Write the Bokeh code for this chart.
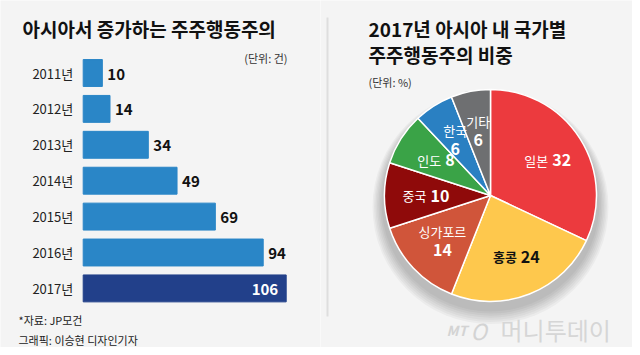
import math
from bokeh.plotting import figure
from bokeh.layouts import row
from bokeh.models import Range1d, ColumnDataSource, Label
from bokeh.core.properties import value
from bokeh.embed import file_html
from bokeh.resources import INLINE

# ---------------- data ----------------
years = ["2011년", "2012년", "2013년", "2014년", "2015년", "2016년", "2017년"]
counts = [10, 14, 34, 49, 69, 94, 106]

countries = ["일본", "홍콩", "싱가포르", "중국", "인도", "한국", "기타"]
shares = [32, 24, 14, 10, 8, 6, 6]

bar_color = "#2a86c7"
highlight_color = "#22408a"
slice_colors = ["#ec3a3e", "#fec84d", "#d0553a", "#8f0a0a", "#3aa347", "#2a80c2", "#6e6f71"]
label_colors = ["white", "#111111", "white", "white", "white", "white", "white"]

BG = "#f4f4f4"
FONT = "Noto Sans CJK KR"
H = 347

# ---------------- left: bar chart ----------------
LW = 320
PX = 1.915      # pixels per unit
X0 = 82.7       # screen x of value 0
STEP = 35.9     # pixels per category
Y0 = 72.5       # screen y of first category centre

left = figure(width=LW, height=H, output_backend="svg", toolbar_location=None,
              x_range=Range1d(-X0 / PX, (LW - X0) / PX),
              y_range=Range1d((H - Y0) / STEP, -Y0 / STEP),
              min_border=0)
left.axis.visible = False
left.grid.visible = False
left.outline_line_color = None
left.background_fill_color = BG
left.border_fill_color = BG

def lx(px):
    return (px - X0) / PX

def ly(py):
    return (py - Y0) / STEP

idx = list(range(len(years)))
last = len(years) - 1
colors = [highlight_color if i == last else bar_color for i in idx]
src = ColumnDataSource(dict(y=idx, v=counts, c=colors))
left.hbar(y="y", left=0, right="v", height=0.75, color="c", source=src)

left.text(x=[0] * len(idx), y=idx, text=years, x_offset=-10,
          text_align="right", text_baseline="middle",
          text_font=value(FONT), text_font_size="13px", text_color="#222222")

out_idx = idx[:-1]
left.text(x=[counts[i] for i in out_idx], y=out_idx,
          text=[str(counts[i]) for i in out_idx], x_offset=5, y_offset=1,
          text_align="left", text_baseline="middle",
          text_font=value(FONT), text_font_style="bold",
          text_font_size="15px", text_color="#111111")
left.text(x=[counts[last]], y=[last], text=[str(counts[last])], x_offset=-8, y_offset=1,
          text_align="right", text_baseline="middle",
          text_font=value(FONT), text_font_style="bold",
          text_font_size="15px", text_color="white")

left.add_layout(Label(x=lx(22), y=ly(28), text="아시아서 증가하는 주주행동주의",
                      text_baseline="middle", text_align="left",
                      text_font=FONT, text_font_style="bold",
                      text_font_size="19px", text_color="#111111"))
left.add_layout(Label(x=lx(287), y=ly(57), text="(단위: 건)",
                      text_baseline="middle", text_align="right",
                      text_font=FONT, text_font_size="11px", text_color="#333333"))
left.add_layout(Label(x=lx(18), y=ly(319), text="*자료: JP모건",
                      text_baseline="middle", text_align="left",
                      text_font=FONT, text_font_size="11px", text_color="#222222"))
left.add_layout(Label(x=lx(18), y=ly(339), text="그래픽: 이승현 디자인기자",
                      text_baseline="middle", text_align="left",
                      text_font=FONT, text_font_size="11px", text_color="#222222"))

# ---------------- right: pie chart ----------------
RW = 312
RX0 = 320
CX, CY = 490, 195   # pie centre in page pixels
R = 106

right = figure(width=RW, height=H, output_backend="svg", toolbar_location=None,
               x_range=Range1d(RX0 - CX, RX0 + RW - CX),
               y_range=Range1d(CY - H, CY),
               min_border=0)
right.axis.visible = False
right.grid.visible = False
right.outline_line_color = None
right.background_fill_color = BG
right.border_fill_color = BG

def rx(x):
    return x - CX

def ry(y):
    return CY - y

# separator line
right.segment(x0=[rx(327)], y0=[ry(17)], x1=[rx(327)], y1=[ry(316)],
              line_color="#dedede", line_width=2)

# soft shadow
for k in range(7):
    right.ellipse(x=[0], y=[-8 - k * 0.6], width=[2 * R + 6 + k * 3], height=[2 * R + 4 + k * 3],
                  fill_color="black", fill_alpha=0.035, line_color=None)

total = float(sum(shares))
starts, ends, mids = [], [], []
cum = 0.0
for s in shares:
    a0 = math.pi / 2 - 2 * math.pi * cum / total
    cum += s
    a1 = math.pi / 2 - 2 * math.pi * cum / total
    starts.append(a0)
    ends.append(a1)
    mids.append((a0 + a1) / 2)

right.wedge(x=[0] * len(shares), y=[0] * len(shares), radius=R,
            start_angle=starts, end_angle=ends, direction="clock",
            fill_color=slice_colors, line_color="white", line_width=1.5)

LR = 66
for name, s, m, col in zip(countries, shares, mids, label_colors):
    x = LR * math.cos(m)
    y = LR * math.sin(m)
    if s <= 6 or len(name) > 2:
        right.text(x=[x], y=[y + 9], text=[name], text_align="center", text_baseline="middle",
                   text_font=value(FONT), text_font_size="13px", text_color=col)
        right.text(x=[x], y=[y - 9], text=[str(s)], text_align="center", text_baseline="middle",
                   text_font=value(FONT), text_font_style="bold",
                   text_font_size="16px", text_color=col)
    else:
        name_w = 13 * len(name)
        num_w = 16 * 0.56 * len(str(s))
        tot = name_w + 4 + num_w
        split = x - tot / 2 + name_w
        right.text(x=[split], y=[y], text=[name], text_align="right", text_baseline="middle",
                   text_font=value(FONT), text_font_size="13px", text_color=col,
                   text_font_style="bold" if col != "white" else "normal")
        right.text(x=[split + 4], y=[y], text=[str(s)], text_align="left", text_baseline="middle",
                   text_font=value(FONT), text_font_style="bold",
                   text_font_size="16px", text_color=col)

right.add_layout(Label(x=rx(368), y=ry(28), text="2017년 아시아 내 국가별",
                       text_baseline="middle", text_align="left",
                       text_font=FONT, text_font_style="bold",
                       text_font_size="19px", text_color="#111111"))
right.add_layout(Label(x=rx(368), y=ry(54), text="주주행동주의 비중",
                       text_baseline="middle", text_align="left",
                       text_font=FONT, text_font_style="bold",
                       text_font_size="19px", text_color="#111111"))
right.add_layout(Label(x=rx(368), y=ry(81), text="(단위: %)",
                       text_baseline="middle", text_align="left",
                       text_font=FONT, text_font_size="11px", text_color="#333333"))

# watermark
right.add_layout(Label(x=rx(446), y=ry(329), text="MT",
                       text_baseline="middle", text_align="left",
                       text_font=FONT, text_font_style="bold italic",
                       text_font_size="14px", text_color="#d3d3d3"))
right.add_layout(Label(x=rx(470), y=ry(329), text="O",
                       text_baseline="middle", text_align="left",
                       text_font=FONT, text_font_style="italic",
                       text_font_size="22px", text_color="#d3d3d3"))
right.add_layout(Label(x=rx(500), y=ry(329), text="머니투데이",
                       text_baseline="middle", text_align="left",
                       text_font=FONT, text_font_size="24px", text_color="#d6d6d6"))

layout = row(left, right, spacing=0)
open("out.html", "w").write(file_html(layout, INLINE))
